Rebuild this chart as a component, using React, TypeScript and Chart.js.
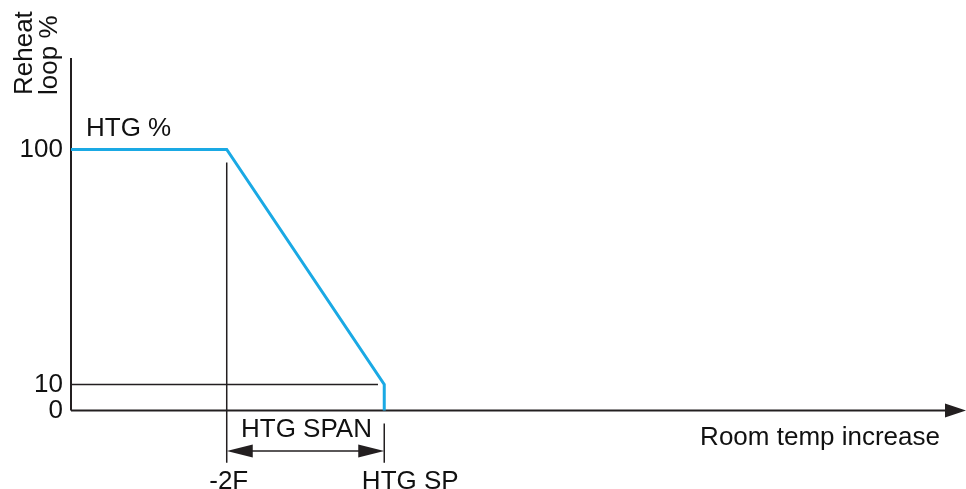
import React, { useEffect, useRef } from "react";
import { Chart, registerables } from "chart.js";

Chart.register(...registerables);

// ---- data ----
const xMin = 0;
const xMax = 100;
const yMin = 0;
const yMax = 135;

const yTickValues = [100, 10, 0];
const yTickLabels = ["100", "10", "0"];

const breakLabels = ["-2F", "HTG SP"];
const breakX = [17.4, 35]; // -2F, HTG SP positions on the temperature axis

const curveX = [0, 17.4, 35, 35];
const curveY = [100, 100, 10, 0];

const refLineY = 10;
const refLineEndX = 34.3;

const minus2FLineY = [95, -20];
const spTickY = [-5, -20];
const spanY = -15.5;

const axisTitleY = ["Reheat", "loop %"];
const axisTitleX = "Room temp increase";
const curveLabel = "HTG %";
const spanLabel = "HTG SPAN";

const BLUE = "#1AA9E4";
const DARK = "#231F20";
const FONT = '26px "Liberation Sans", Arial, sans-serif';

const pts = (xs: number[], ys: number[]) => xs.map((x, i) => ({ x, y: ys[i] }));

const annotations = {
  id: "annotations",
  afterDatasetsDraw(chart: any) {
    const ctx = chart.ctx as CanvasRenderingContext2D;
    const xs = chart.scales.x;
    const ys = chart.scales.y;
    const px = (v: number) => xs.getPixelForValue(v);
    const py = (v: number) => ys.getPixelForValue(v);
    ctx.save();
    ctx.fillStyle = DARK;

    const tri = (tipX: number, tipY: number, dir: number, len: number, half: number) => {
      ctx.beginPath();
      ctx.moveTo(tipX, tipY);
      ctx.lineTo(tipX - dir * len, tipY - half);
      ctx.lineTo(tipX - dir * len, tipY + half);
      ctx.closePath();
      ctx.fill();
    };
    // x-axis arrowhead
    tri(px(xMax), py(0), 1, 21, 7);
    // span arrowheads
    tri(px(breakX[0]), py(spanY), -1, 26, 6.5);
    tri(px(breakX[1]), py(spanY), 1, 26, 6.5);

    ctx.font = FONT;
    ctx.fillStyle = "#111";
    // y tick labels
    ctx.textAlign = "right";
    ctx.textBaseline = "middle";
    yTickValues.forEach((v, i) => ctx.fillText(yTickLabels[i], px(0) - 8, py(v)));

    ctx.textBaseline = "alphabetic";
    // curve label
    ctx.textAlign = "left";
    ctx.fillText(curveLabel, px(0) + 15, py(105));
    // span label
    ctx.textAlign = "center";
    ctx.fillText(spanLabel, (px(breakX[0]) + px(breakX[1])) / 2 + 1, py(-10.1));
    // break labels
    ctx.fillText(breakLabels[0], px(breakX[0]) + 2, py(-30));
    ctx.fillText(breakLabels[1], px(breakX[1]) + 26, py(-30));
    // x axis title
    ctx.textAlign = "right";
    ctx.fillText(axisTitleX, px(xMax) - 26, py(-13.2));

    // y axis title, rotated
    ctx.textAlign = "left";
    axisTitleY.forEach((t, i) => {
      ctx.save();
      ctx.translate(32 + i * 25, 95);
      ctx.rotate(-Math.PI / 2);
      ctx.fillText(t, 0, 0);
      ctx.restore();
    });
    ctx.restore();
  },
};

export default function App() {
  const ref = useRef<HTMLCanvasElement>(null);
  useEffect(() => {
    if (!ref.current) return;
    const line = (data: any[], color: string, width: number) => ({
      data,
      borderColor: color,
      borderWidth: width,
      pointRadius: 0,
      showLine: true,
      fill: false,
      clip: false as any,
      borderJoinStyle: "miter" as const,
      tension: 0,
    });
    const chart = new Chart(ref.current, {
      type: "scatter",
      data: {
        datasets: [
          line(pts(curveX, curveY), BLUE, 3),
          line(pts([0, refLineEndX], [refLineY, refLineY]), DARK, 1.5),
          line(pts([breakX[0], breakX[0]], minus2FLineY), DARK, 1.5),
          line(pts([breakX[1], breakX[1]], spTickY), DARK, 1.5),
          line(pts([breakX[0] + 2, breakX[1] - 2], [spanY, spanY]), DARK, 1.5),
          line(pts([0, 0], [yMin, yMax]), DARK, 2),
          line(pts([0, xMax - 1.5], [0, 0]), DARK, 2),
        ],
      },
      options: {
        responsive: false,
        animation: false,
        layout: { padding: { left: 71, right: 0, top: 58, bottom: 78.5 } },
        scales: {
          x: { type: "linear", min: xMin, max: xMax, display: false },
          y: { type: "linear", min: yMin, max: yMax, display: false },
        },
        plugins: { legend: { display: false }, tooltip: { enabled: false } },
      },
      plugins: [annotations],
    });
    return () => chart.destroy();
  }, []);
  return (
    <div style={{ position: "absolute", left: 0, top: 0, width: 966, height: 489, background: "#fff" }}>
      <canvas ref={ref} width={966} height={489} style={{ display: "block" }} />
    </div>
  );
}
